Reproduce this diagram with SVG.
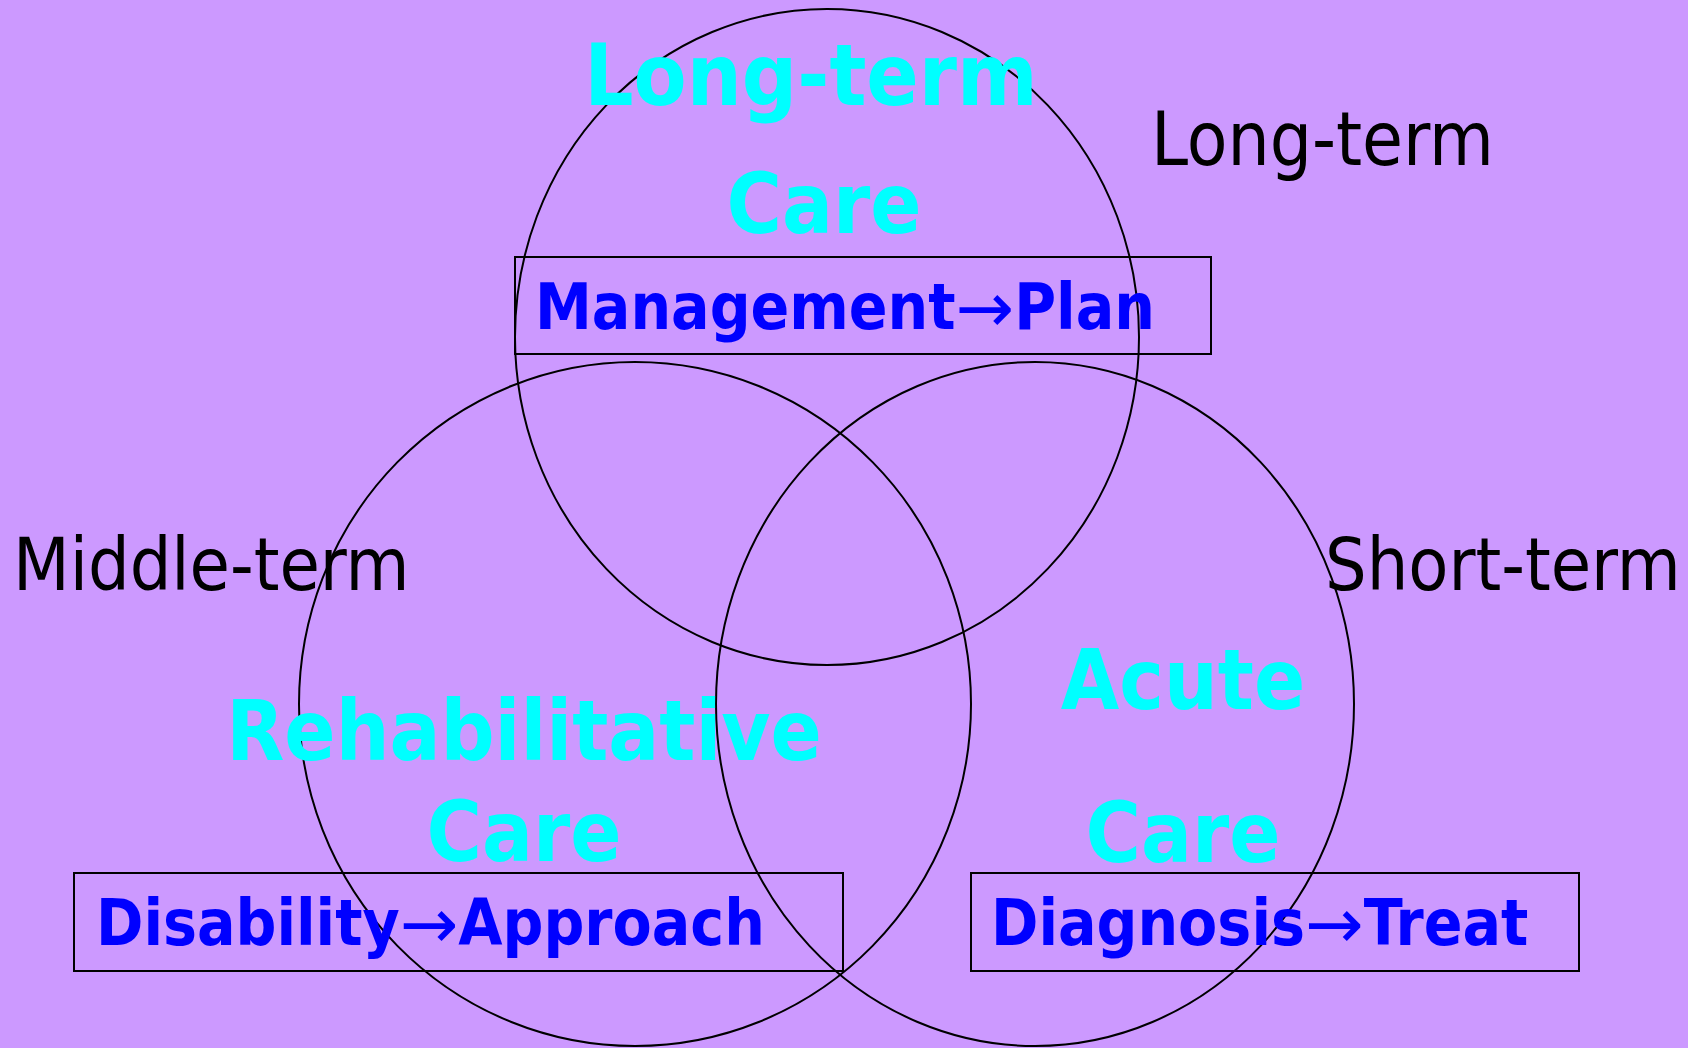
<svg xmlns="http://www.w3.org/2000/svg" width="1688" height="1048" viewBox="0 0 1688 1048">
<style>
.ring{fill:none;stroke:#000;stroke-width:2}
.box{fill:none;stroke:#000;stroke-width:2}
.title{font-family:"DejaVu Sans Condensed","DejaVu Sans",sans-serif;font-stretch:condensed;font-weight:bold;font-size:84px;fill:#00FFFF;text-anchor:middle}
.term{font-family:"DejaVu Sans Condensed","DejaVu Sans",sans-serif;font-stretch:condensed;font-size:73px;fill:#000}
.sub{font-family:"DejaVu Sans Condensed","DejaVu Sans",sans-serif;font-stretch:condensed;font-weight:bold;font-size:63.5px;fill:#0000FF}
.arr{font-family:"DejaVu Sans",sans-serif;font-stretch:normal;font-weight:normal;font-size:70px}
</style>
<rect x="0" y="0" width="1688" height="1048" fill="#CC99FF"/>
<g id="ring-long">
<ellipse class="ring" cx="827" cy="337" rx="312" ry="328"/>
</g>
<g id="ring-middle">
<ellipse class="ring" cx="635" cy="704" rx="336" ry="342"/>
</g>
<g id="ring-short">
<ellipse class="ring" cx="1035" cy="704" rx="319" ry="342"/>
</g>
<g id="long-term-care">
<text class="title" x="811" y="105" style="font-size:86px">Long-term</text>
<text class="title" x="824" y="233">Care</text>
</g>
<g id="rehab-care">
<text class="title" x="524" y="760">Rehabilitative</text>
<text class="title" x="524" y="861">Care</text>
</g>
<g id="acute-care">
<text class="title" x="1183" y="709">Acute</text>
<text class="title" x="1183" y="862">Care</text>
</g>
<g id="label-long">
<text class="term" x="1151" y="165" style="font-size:74px">Long-term</text>
</g>
<g id="label-middle">
<text class="term" x="13" y="590">Middle-term</text>
</g>
<g id="label-short">
<text class="term" x="1325" y="590">Short-term</text>
</g>
<g id="box-management">
<rect class="box" x="515" y="257" width="696" height="97"/>
<text class="sub" x="535" y="329">Management<tspan class="arr" dy="3">→</tspan><tspan dy="-3">Plan</tspan></text>
</g>
<g id="box-disability">
<rect class="box" x="74" y="873" width="769" height="98"/>
<text class="sub" x="96" y="945">Disability<tspan class="arr" dy="3">→</tspan><tspan dy="-3">Approach</tspan></text>
</g>
<g id="box-diagnosis">
<rect class="box" x="971" y="873" width="608" height="98"/>
<text class="sub" x="991" y="945">Diagnosis<tspan class="arr" dy="3">→</tspan><tspan dy="-3">Treat</tspan></text>
</g>
<g id="connectors"></g>
</svg>
